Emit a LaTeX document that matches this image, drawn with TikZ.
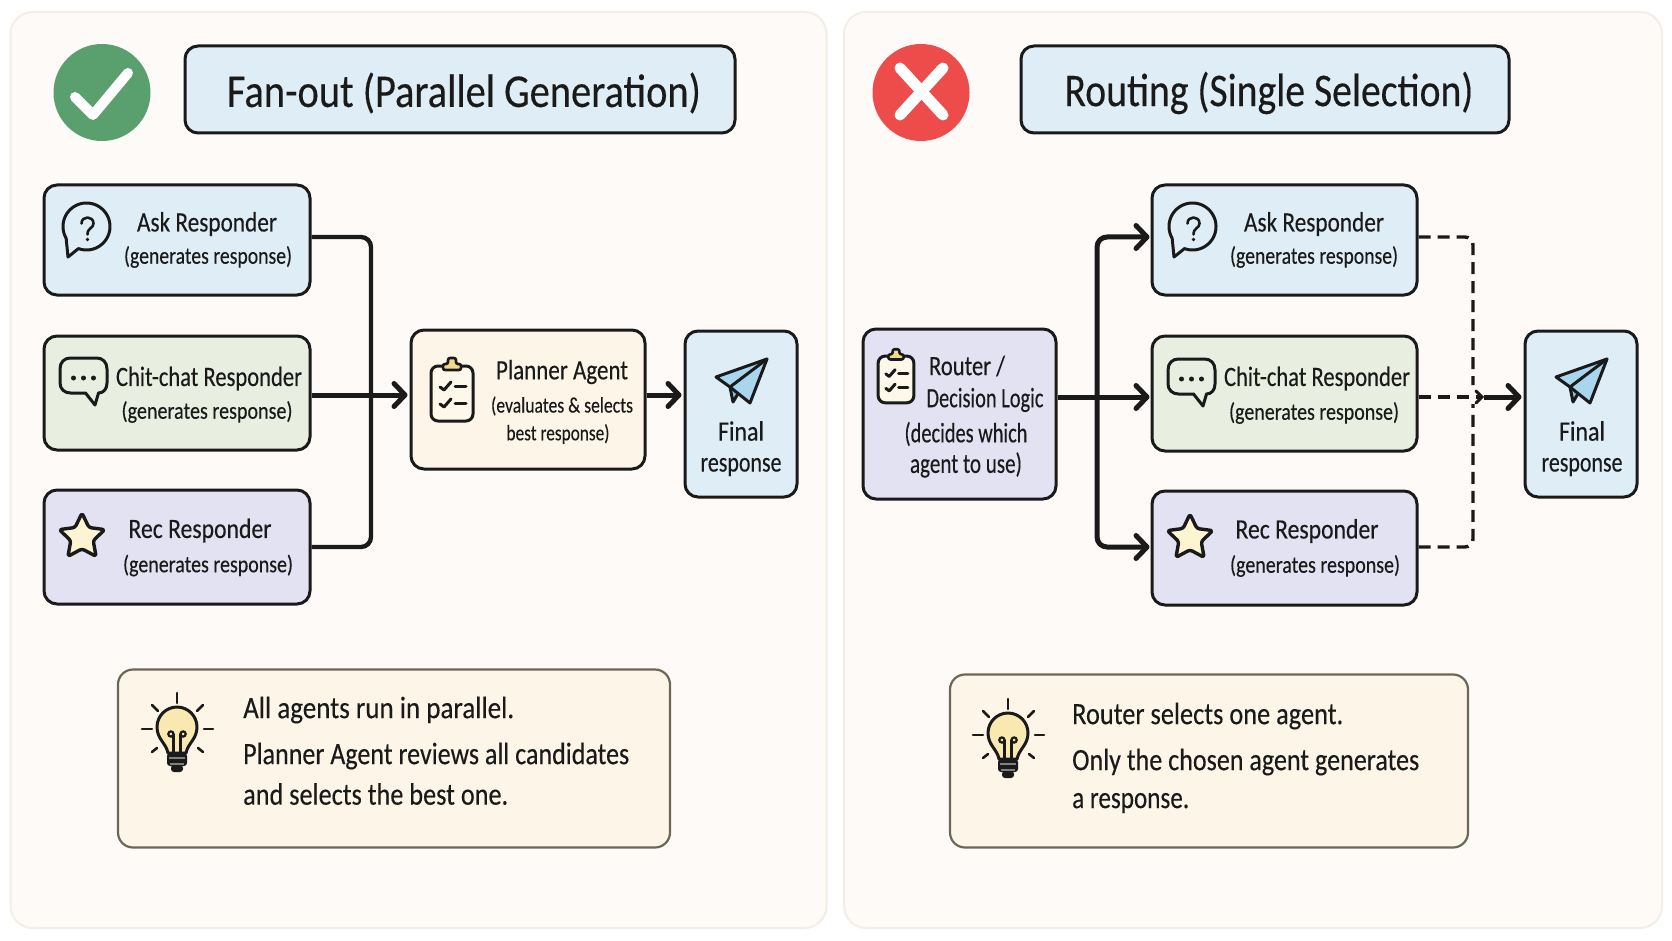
\documentclass[tikz,border=0pt]{standalone}
\usepackage{fontspec}
\usepackage{graphicx}
\setmainfont[FakeBold=0.3]{Carlito}
\usetikzlibrary{arrows.meta}
\definecolor{ink}{HTML}{1A1A1A}
\definecolor{paneledge}{HTML}{F3EEE6}
\definecolor{panelfill}{HTML}{FDFAF7}
\definecolor{cblue}{HTML}{DFEEF6}
\definecolor{cgreen}{HTML}{E8EEE0}
\definecolor{cpurple}{HTML}{E2E2F2}
\definecolor{ccream}{HTML}{FDF6E8}
\definecolor{tipedge}{HTML}{6E6656}
\definecolor{okgreen}{HTML}{5A9F6E}
\definecolor{badred}{HTML}{EE4B4B}
\definecolor{plane}{HTML}{A9D6EE}
\definecolor{planedark}{HTML}{86C2E4}
\definecolor{starfill}{HTML}{FDF4D2}
\definecolor{clipfill}{HTML}{F4D78F}
\definecolor{clipbody}{HTML}{FDF8EA}
\definecolor{bulbfill}{HTML}{F9E8B0}
\newcommand{\fitw}[2]{\resizebox{#1pt}{\height}{#2}}
\tikzset{
  panelbox/.style={draw=paneledge,line width=2pt,fill=panelfill,rounded corners=22pt,inner sep=0pt},
  box/.style={draw=ink,line width=3pt,rounded corners=13pt,inner sep=0pt},
  tipbox/.style={draw=tipedge,line width=2.2pt,fill=ccream,rounded corners=15pt,inner sep=0pt},
  txt/.style={inner sep=0pt,text=ink,yshift=-2pt},
  ttl/.style={txt,font=\fontsize{47}{47}\selectfont},
  big/.style={txt,font=\fontsize{28}{28}\selectfont},
  small/.style={txt,font=\fontsize{24}{24}\selectfont},
  tiny/.style={txt,font=\fontsize{22}{22}\selectfont},
  tiptxt/.style={txt,anchor=west,font=\fontsize{31}{31}\selectfont},
  flow/.style={draw=ink,line width=4.4pt,rounded corners=10pt},
  flowarrow/.style={draw=ink,line width=5pt,-{Straight Barb[length=11pt,width=23pt,line width=5pt,round]}},
  dashline/.style={draw=ink,line width=3.4pt,dash pattern=on 12pt off 7pt,rounded corners=8pt},
  icon/.style={draw=ink,line width=3pt,line join=round,line cap=round},
  pics/qicon/.style={code={
    \draw[icon] plot[domain=110:-210,samples=70] ({23.5*cos(\x)},{23.5*sin(\x)}) -- (-18.5,30.5) -- cycle;
    \draw[icon,line width=2.6pt] (-5,-3) .. controls (-5,-11) and (7,-11) .. (7,-3) .. controls (7,2) and (1,1) .. (1,8);
    \fill[ink] (1,13) circle[radius=1.9];
  }},
  pics/chaticon/.style={code={
    \draw[icon] (2,15) -- (-13,15) .. controls (-19,15) and (-23.5,11) .. (-23.5,5)
      -- (-23.5,-9) .. controls (-23.5,-16) and (-19,-20) .. (-13,-20)
      -- (13,-20) .. controls (19,-20) and (23.5,-16) .. (23.5,-9)
      -- (23.5,5) .. controls (23.5,11) and (20,15) .. (15,15)
      -- (11.5,27) -- (2,15) -- cycle;
    \foreach \dx in {-10,0,10}{\fill[ink] (\dx,0) circle[radius=2.5];}
  }},
  pics/staricon/.style={code={
    \draw[icon,fill=starfill,line width=3.4pt,rounded corners=2.5pt] (0,-24) -- (6.9,-9.5) -- (22.8,-7.4) -- (11.2,3.6) -- (14.1,19.4) -- (0,11.8) -- (-14.1,19.4) -- (-11.2,3.6) -- (-22.8,-7.4) -- (-6.9,-9.5) -- cycle;
  }},
  pics/clipicon/.style={code={
    \draw[icon,fill=clipbody,rounded corners=7pt] (-21,-27) rectangle (21,28);
    \draw[icon,fill=clipfill,line width=2.6pt,rounded corners=2pt] (-9,-23) -- (-9,-29) -- (-4,-29) -- (-4,-35) -- (4,-35) -- (4,-29) -- (9,-29) -- (9,-23) -- cycle;
    \foreach \dy in {0,17}{
      \draw[icon] (-12,-6+\dy) -- (-8,-3+\dy) -- (-1,-11+\dy);
      \draw[icon] (3,-7+\dy) -- (14,-7+\dy);
    }
  }},
  pics/planeicon/.style={code={
    \draw[icon,fill=planedark] (-11,7) -- (-8,22) -- (-2,12) -- cycle;
    \draw[icon,fill=plane] (26,-21) -- (-25,-3) -- (-11,7) -- (9,23) -- cycle;
    \draw[icon] (-11,7) -- (26,-21);
  }},
  pics/bulbicon/.style={code={
    \draw[icon,fill=bulbfill] (-9,26) .. controls (-11,16) and (-20,12) .. (-20,0) .. controls (-20,-11) and (-11,-20) .. (0,-20) .. controls (11,-20) and (20,-11) .. (20,0) .. controls (20,12) and (11,16) .. (9,26) -- cycle;
    \draw[ink,line width=2.4pt,line cap=round] (-3.5,25) -- (-3.5,7) (3.5,25) -- (3.5,7);
    \draw[ink,line width=2.2pt] (-3.5,7) arc[start angle=0,end angle=360,radius=2.6pt];
    \draw[ink,line width=2.2pt] (3.5,7) arc[start angle=180,end angle=540,radius=2.6pt];
    \fill[ink,rounded corners=3pt] (-10,26) rectangle (10,39);
    \fill[ink,rounded corners=3pt] (-6,38) rectangle (6,45);
    \draw[gray,line width=1.4pt] (-8,31) -- (8,31) (-7,37) -- (7,37);
    \foreach \ax/\ay/\bx/\by in {0/-34/0/-24,-35/2/-25/2,27/2/36/2,-25/-22/-19/-16,26/-22/20/-16,-25/25/-20/21,26/25/21/21}{
      \draw[ink,line width=2.6pt,line cap=round] (\ax,\ay) -- (\bx,\by);
    }
  }}
}
\begin{document}
\begin{tikzpicture}[x=1pt,y=-1pt]
\useasboundingbox (0,0) rectangle (1672,941);
\fill[white] (0,0) rectangle (1672,941);
% panels
\node[panelbox,minimum width=816pt,minimum height=916pt] (panelL) at (418.5,470) {};
\node[panelbox,minimum width=818pt,minimum height=916pt] (panelR) at (1253,470) {};
% headers
\node[circle,fill=okgreen,minimum size=97pt,inner sep=0pt] (okc) at (102,92.5) {};
\draw[white,line width=10pt,line cap=round,line join=round] (75,97) -- (93,115) -- (128,73);
\node[circle,fill=badred,minimum size=97pt,inner sep=0pt] (badc) at (921,92.5) {};
\draw[white,line width=11pt,line cap=round] (900,68) -- (943,115) (943,68) -- (900,115);
\node[box,fill=cblue,minimum width=550pt,minimum height=87pt] (titleL) at (460,89.5) {};
\node[ttl] (titleLt) at (464,91) {\fitw{474}{Fan-out (Parallel Generation)}};
\node[box,fill=cblue,minimum width=488pt,minimum height=87pt] (titleR) at (1265,89.5) {};
\node[ttl] (titleRt) at (1269,91) {\fitw{409}{Routing (Single Selection)}};
% left boxes
\node[box,fill=cblue,minimum width=266pt,minimum height=110pt] (askL) at (177,240) {};
\node[box,fill=cgreen,minimum width=266pt,minimum height=114pt] (chatL) at (177,393) {};
\node[box,fill=cpurple,minimum width=266pt,minimum height=114pt] (recL) at (177,547) {};
\node[box,fill=ccream,minimum width=234pt,minimum height=139pt] (plan) at (528,399.5) {};
\node[box,fill=cblue,minimum width=112pt,minimum height=166pt] (finalL) at (741,414) {};
% right boxes
\node[box,fill=cpurple,minimum width=193pt,minimum height=170pt] (router) at (959.5,414) {};
\node[box,fill=cblue,minimum width=265pt,minimum height=110pt] (askR) at (1284.5,240) {};
\node[box,fill=cgreen,minimum width=265pt,minimum height=115pt] (chatR) at (1284.5,393.5) {};
\node[box,fill=cpurple,minimum width=265pt,minimum height=114pt] (recR) at (1284.5,548) {};
\node[box,fill=cblue,minimum width=112pt,minimum height=166pt] (finalR) at (1581,414) {};
% tips
\node[tipbox,minimum width=552pt,minimum height=178pt] (tipL) at (394,758.5) {};
\node[tipbox,minimum width=518pt,minimum height=173pt] (tipR) at (1209,761) {};
% left connectors
\coordinate (jL) at (371,395);
\draw[flow] ([yshift=3pt]askL.east) -| (jL);
\draw[flow] (recL.east) -| (jL);
\draw[flowarrow] ([yshift=-2pt]chatL.east) -- ([xshift=-2pt,yshift=4.5pt]plan.west);
\draw[flowarrow] ([yshift=4.5pt]plan.east) -- ([xshift=-2pt,yshift=19pt]finalL.west);
% right connectors
\coordinate (jR) at (1097,397);
\draw[flowarrow] ([yshift=17pt]router.east) -- ([xshift=-1pt,yshift=-3.5pt]chatR.west);
\draw[flowarrow,rounded corners=10pt] (jR) |- ([xshift=-1pt,yshift=3pt]askR.west);
\draw[flowarrow,rounded corners=10pt] (jR) |- ([xshift=-1pt,yshift=1pt]recR.west);
\coordinate (dU) at (1473,385);
\coordinate (dD) at (1473,404);
\coordinate (mR) at (1482,397);
\draw[dashline] ([yshift=3pt]askR.east) -| (dU);
\draw[dashline] ([yshift=1pt]recR.east) -| (dD);
\draw[dashline] ([yshift=-3.5pt]chatR.east) -- (mR);
\draw[ink,line width=3pt,line cap=round] (1476,391) -- (mR) -- (1476,403);
\draw[flowarrow] (1484,397) -- ([xshift=-2pt,yshift=17pt]finalR.west);
% icons
\pic at (86.5,226.5) {qicon};
\pic at (83.5,378) {chaticon};
\pic at (82,537) {staricon};
\pic at (452,393) {clipicon};
\pic at (741,380) {planeicon};
\pic at (1192.5,226.5) {qicon};
\pic at (1191.5,379) {chaticon};
\pic at (1190,538) {staricon};
\pic[scale=.85] at (896,379) {clipicon};
\pic at (1581,380) {planeicon};
\pic at (177,727) {bulbicon};
\pic at (1008,733) {bulbicon};
% left text
\node[big] (t1) at (207,222) {\fitw{140}{Ask Responder}};
\node[small] (t2) at (208,255) {\fitw{168}{(generates response)}};
\node[big] (t3) at (209,376.5) {\fitw{186}{Chit-chat Responder}};
\node[small] (t4) at (207,410) {\fitw{171}{(generates response)}};
\node[big] (t5) at (200,528.5) {\fitw{143}{Rec Responder}};
\node[small] (t6) at (208,563.5) {\fitw{170}{(generates response)}};
\node[big] (t7) at (562,370) {\fitw{132}{Planner Agent}};
\node[tiny] (t8) at (562,404) {\fitw{142}{(evaluates \& selects}};
\node[tiny] (t9) at (558,432) {\fitw{103}{best response)}};
\node[big] (t10) at (741,429) {\fitw{46}{Final}};
\node[big] (t11) at (741,465) {\fitw{81}{response}};
% right text
\node[big] (r1) at (1314,222) {\fitw{140}{Ask Responder}};
\node[small] (r2) at (1314,255) {\fitw{168}{(generates response)}};
\node[big] (r3) at (1317,376.5) {\fitw{186}{Chit-chat Responder}};
\node[small] (r4) at (1314,411) {\fitw{170}{(generates response)}};
\node[big] (r5) at (1307,529) {\fitw{143}{Rec Responder}};
\node[small] (r6) at (1315,564) {\fitw{170}{(generates response)}};
\node[big] (r7) at (967,364) {\fitw{76}{Router /}};
\node[big] (r8) at (985,398) {\fitw{117}{Decision Logic}};
\node[big] (r9) at (966,432) {\fitw{123}{(decides which}};
\node[big] (r10) at (966,463) {\fitw{112}{agent to use)}};
\node[big] (r11) at (1582,429) {\fitw{46}{Final}};
\node[big] (r12) at (1582,465) {\fitw{81}{response}};
% tip text
\node[tiptxt] (a1) at (243,708) {\fitw{271}{All agents run in parallel.}};
\node[tiptxt] (a2) at (243,754) {\fitw{386}{Planner Agent reviews all candidates}};
\node[tiptxt] (a3) at (243,792) {\fitw{265}{and selects the best one.}};
\node[tiptxt] (b1) at (1072,714) {\fitw{271}{Router selects one agent.}};
\node[tiptxt] (b2) at (1072,760) {\fitw{347}{Only the chosen agent generates}};
\node[tiptxt] (b3) at (1072,801) {\fitw{117}{a response.}};
\end{tikzpicture}
\end{document}
